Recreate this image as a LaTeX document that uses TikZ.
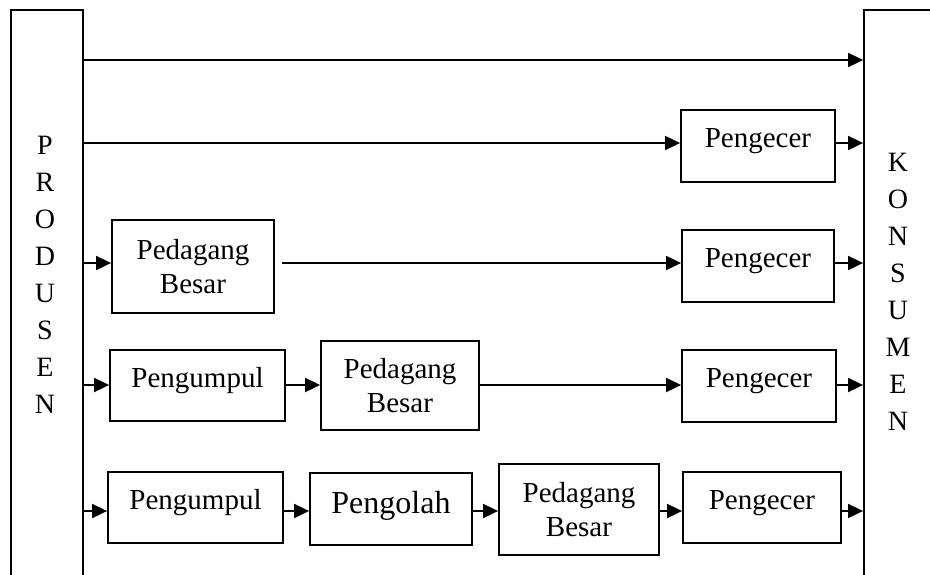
\documentclass[tikz,border=0pt]{standalone}
\usepackage{fontspec}
\setmainfont{Liberation Serif}
\usetikzlibrary{arrows.meta,positioning}
\usepackage{xcolor}
\definecolor{chainInk}{HTML}{000000}

\begin{document}
\begin{tikzpicture}[x=1pt, y=-1pt,
  every node/.style ={font=\fontsize{29}{34}\selectfont, text=chainInk},
  side/.style       ={draw=chainInk, line width=1.8pt, inner sep=0pt, minimum height=600pt},
  blk/.style        ={draw=chainInk, line width=1.8pt, inner sep=0pt, align=center},
  one/.style        ={text height=20pt, text depth=17pt},
  vlbl/.style       ={align=center, inner sep=0pt, font=\fontsize{28}{37}\selectfont},
  flow/.style       ={-{Triangle[length=15pt, width=14pt]}, line width=1.8pt, chainInk},
]

\def\yRa{60}\def\yRb{143}\def\yRc{263}\def\yRd{385}\def\yRe{511}

\useasboundingbox (0,0) rectangle (930,574);
\clip (0,0) rectangle (930,574);

\node[side, minimum width=72pt]  (prod) at (47,310) {};
\node[side, minimum width=136pt] (kons) at (932,310) {};
\node[vlbl] (prodtxt) at (45,275) {P\\R\\O\\D\\U\\S\\E\\N};
\node[vlbl] (konstxt) at (898,292) {K\\O\\N\\S\\U\\M\\E\\N};

\coordinate (r1) at (0,\yRa);
\coordinate (r2) at (0,\yRb);
\coordinate (r3) at (0,\yRc);
\coordinate (r4) at (0,\yRd);
\coordinate (r5) at (0,\yRe);

\node[blk, one, minimum width=154pt, minimum height=72pt] (pe2) at (758,146)   {Pengecer};
\node[blk,      minimum width=162pt, minimum height=93pt] (pb3) at (193,266.5) {Pedagang\\Besar};
\node[blk, one, minimum width=152pt, minimum height=72pt] (pe3) at (758,266)   {Pengecer};
\node[blk, one, minimum width=175pt, minimum height=71pt] (pu4) at (197.5,385.5) {Pengumpul};
\node[blk,      minimum width=158pt, minimum height=89pt] (pb4) at (400,385.5) {Pedagang\\Besar};
\node[blk, one, minimum width=154pt, minimum height=72pt] (pe4) at (759,386)   {Pengecer};
\node[blk, one, minimum width=175pt, minimum height=71pt] (pu5) at (195.5,507.5) {Pengumpul};
\node[blk, minimum width=162pt, minimum height=72pt, text height=24pt, text depth=16pt,
      font=\fontsize{32}{38}\selectfont] (po5) at (391,509) {Pengolah};
\node[blk,      minimum width=160pt, minimum height=91pt] (pb5) at (579,509.5) {Pedagang\\Besar};
\node[blk, one, minimum width=158pt, minimum height=71pt] (pe5) at (762,507.5) {Pengecer};

\draw[flow] (prod.east |- r1) -- (kons.west |- r1);

\draw[flow] (prod.east |- r2) -- (pe2.west |- r2);
\draw[flow] (pe2.east |- r2)  -- (kons.west |- r2);

\draw[flow] (prod.east |- r3) -- (pb3.west |- r3);
\draw[flow, shorten <=7pt] (pb3.east |- r3) -- (pe3.west |- r3);
\draw[flow] (pe3.east |- r3)  -- (kons.west |- r3);

\draw[flow] (prod.east |- r4) -- (pu4.west |- r4);
\draw[flow] (pu4.east |- r4)  -- (pb4.west |- r4);
\draw[flow] (pb4.east |- r4)  -- (pe4.west |- r4);
\draw[flow] (pe4.east |- r4)  -- (kons.west |- r4);

\draw[flow] (prod.east |- r5) -- (pu5.west |- r5);
\draw[flow] (pu5.east |- r5)  -- (po5.west |- r5);
\draw[flow] (po5.east |- r5)  -- (pb5.west |- r5);
\draw[flow] (pb5.east |- r5)  -- (pe5.west |- r5);
\draw[flow] (pe5.east |- r5)  -- (kons.west |- r5);

\end{tikzpicture}
\end{document}
